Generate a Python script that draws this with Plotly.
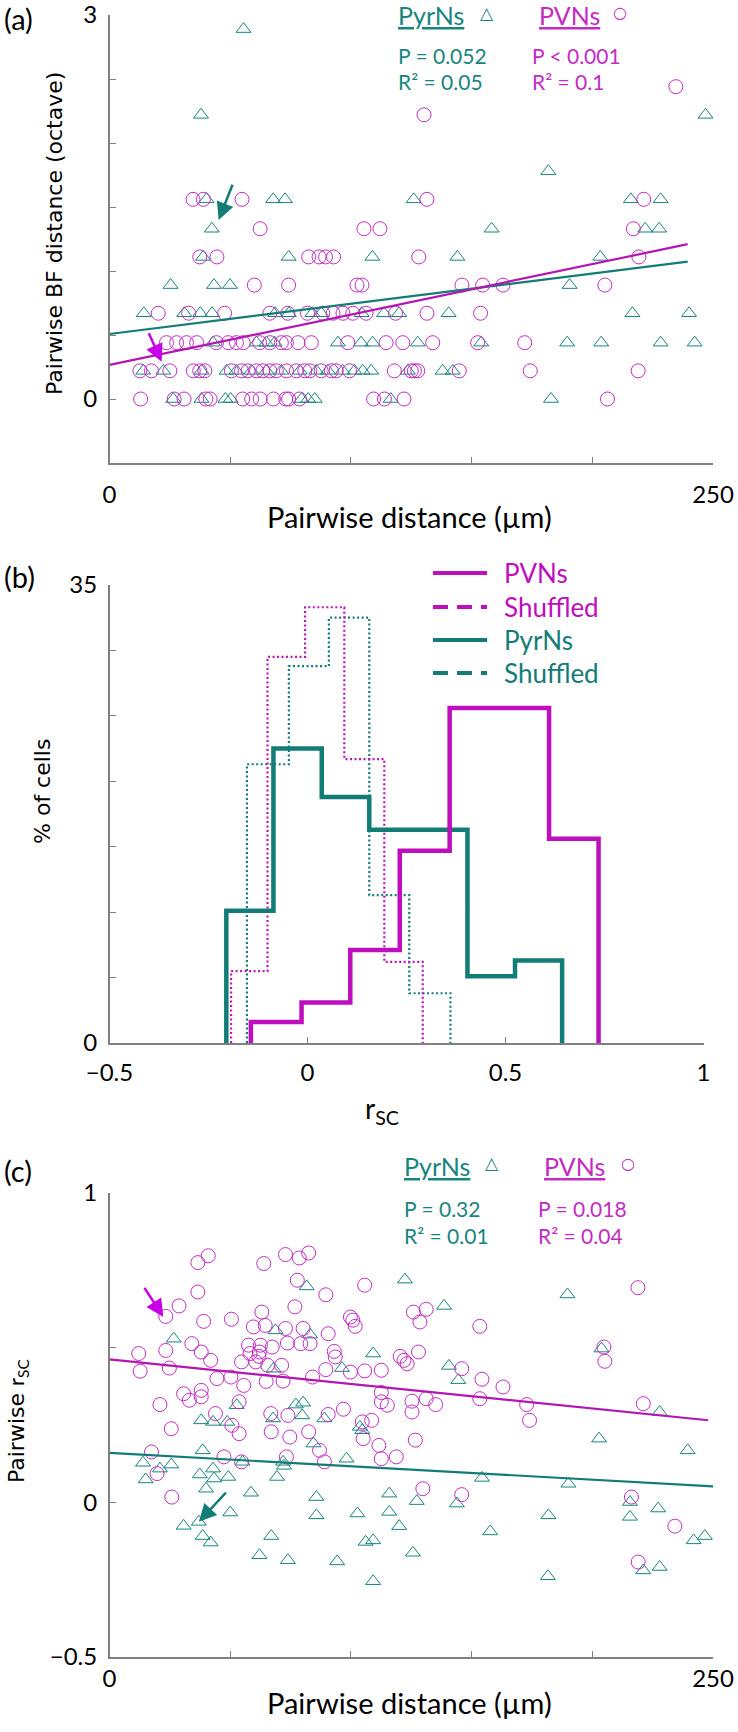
import plotly.graph_objects as go

W, H = 738, 1732
TEAL = "#17857F"
TEAL_LINE = "#137C76"
MAG = "#C42BC4"
MAG_LINE = "#B316B3"
MAG_ARROW = "#C800E6"
AXC = "#808080"
FT = "Lato"          # Calibri-like
FV = "DejaVu Sans"   # Verdana-like

# ---------------- Panel (a): pairwise distance (um) vs pairwise BF distance (octave)
pyr_a_dist = [26.4, 38.1, 48.0, 50.2, 79.6, 82.3, 85.0, 116.5, 182.9,
              14.0, 22.3, 38.1, 48.5, 52.6, 58.8, 65.0, 71.2, 78.8, 85.7, 90.5, 96.6, 101.5, 104.9, 108.4, 123.6, 138.0, 142.2,
              42.9, 60.9, 65.0, 68.4, 94.6, 104.2, 109.0, 127.7, 154.0, 189.6, 203.7, 228.3, 242.4,
              14.2, 31.0, 37.6, 42.5, 68.6, 74.3, 84.0, 87.7, 104.5, 113.7, 120.0, 140.5, 216.6, 240.1,
              25.3, 43.3, 49.9, 190.6,
              38.8, 74.2, 108.9, 144.1, 203.3,
              42.4, 158.3, 221.9, 227.7,
              40.2, 67.8, 72.7, 126.0, 216.0, 228.3,
              181.8,
              37.9, 246.9,
              55.5]
pyr_a_bf = [0.00, 0.00, 0.00, 0.00, 0.00, 0.00, 0.00, 0.00, 0.00,
            0.22, 0.22, 0.22, 0.22, 0.22, 0.22, 0.22, 0.22, 0.22, 0.22, 0.22, 0.22, 0.22, 0.22, 0.22, 0.22, 0.22, 0.22,
            0.44, 0.44, 0.44, 0.44, 0.44, 0.44, 0.44, 0.44, 0.44, 0.44, 0.44, 0.44, 0.44,
            0.67, 0.67, 0.67, 0.67, 0.67, 0.67, 0.67, 0.67, 0.67, 0.67, 0.67, 0.67, 0.67, 0.67,
            0.89, 0.89, 0.89, 0.89,
            1.11, 1.11, 1.11, 1.11, 1.11,
            1.33, 1.33, 1.33, 1.33,
            1.56, 1.56, 1.56, 1.56, 1.56, 1.56,
            1.78,
            2.22, 2.22,
            2.89]

pv_a_dist = [12.9, 26.8, 30.9, 39.9, 41.7, 55.2, 58.9, 62.4, 67.9, 73.0, 74.2, 78.7, 109.4, 113.9, 122.0, 206.3,
             12.6, 17.4, 25.0, 34.7, 37.4, 39.5, 50.5, 54.7, 57.4, 60.9, 63.5, 66.4, 69.1, 73.3, 77.4, 80.9, 83.0, 87.7,
             91.9, 93.9, 99.4, 118.0, 125.0, 126.3, 127.7, 144.9, 174.3, 219.0,
             23.6, 27.8, 31.9, 36.1, 44.3, 49.2, 52.6, 55.4, 62.2, 66.4, 71.2, 73.3, 78.1, 83.6, 98.7, 114.6, 121.5, 133.9, 152.5, 172.0,
             20.2, 32.8, 47.7, 66.4, 73.9, 82.0, 88.4, 92.6, 96.7, 100.8, 106.3, 118.5, 131.5, 153.7,
             60.0, 74.2, 102.5, 104.6, 146.0, 154.6, 163.0, 205.2,
             37.4, 44.5, 82.5, 86.8, 89.5, 92.8, 128.1, 219.3,
             62.4, 105.4, 112.0, 217.0,
             34.6, 38.9, 54.9, 131.5, 221.3,
             130.3,
             234.6]
pv_a_bf = [0.00, 0.00, 0.00, 0.00, 0.00, 0.00, 0.00, 0.00, 0.00, 0.00, 0.00, 0.00, 0.00, 0.00, 0.00, 0.00,
           0.22, 0.22, 0.22, 0.22, 0.22, 0.22, 0.22, 0.22, 0.22, 0.22, 0.22, 0.22, 0.22, 0.22, 0.22, 0.22, 0.22, 0.22,
           0.22, 0.22, 0.22, 0.22, 0.22, 0.22, 0.22, 0.22, 0.22, 0.22,
           0.44, 0.44, 0.44, 0.44, 0.44, 0.44, 0.44, 0.44, 0.44, 0.44, 0.44, 0.44, 0.44, 0.44, 0.44, 0.44, 0.44, 0.44, 0.44, 0.44,
           0.67, 0.67, 0.67, 0.67, 0.67, 0.67, 0.67, 0.67, 0.67, 0.67, 0.67, 0.67, 0.67, 0.67,
           0.89, 0.89, 0.89, 0.89, 0.89, 0.89, 0.89, 0.89,
           1.11, 1.11, 1.11, 1.11, 1.11, 1.11, 1.11, 1.11,
           1.33, 1.33, 1.33, 1.33,
           1.56, 1.56, 1.56, 1.56, 1.56,
           2.22,
           2.44]

# regression fits: (intercept, slope, x_end)
fit_a_pyr = [0.508, 0.00236, 239.5]
fit_a_pv = [0.266, 0.00394, 239.5]

# ---------------- Panel (b): r_sc histograms (% of cells)
pv_edges = [-0.143, -0.015, 0.108, 0.233, 0.359, 0.485, 0.610, 0.735]
pv_pct = [1.6, 3.1, 7.1, 14.7, 25.6, 25.6, 15.6]
pyr_edges = [-0.205, -0.086, 0.036, 0.156, 0.280, 0.404, 0.524, 0.643]
pyr_pct = [10.1, 22.5, 18.8, 16.3, 16.3, 5.1, 6.3]
pv_shuf_edges = [-0.193, -0.101, -0.006, 0.093, 0.194, 0.291]
pv_shuf_pct = [5.5, 29.5, 33.3, 21.7, 6.2]
pyr_shuf_edges = [-0.153, -0.047, 0.054, 0.156, 0.257, 0.361]
pyr_shuf_pct = [21.3, 28.8, 32.5, 11.3, 3.8]

# ---------------- Panel (c): pairwise distance vs pairwise r_sc
pv_c_dist = [36.6, 40.9, 63.9, 72.9, 78.6, 82.5, 77.8, 36.6, 28.8, 23.3, 39.0, 50.5, 63.1, 76.8, 89.6, 105.7,
             59.6, 64.5, 72.9, 80.2, 90.6, 99.8, 100.8, 101.8, 125.9, 131.2, 128.6, 153.4, 218.9,
             12.1, 23.3, 34.1, 38.0, 41.9, 57.6, 62.5, 62.1, 67.4, 73.7, 79.2, 83.1, 58.2, 61.9, 54.7, 60.6, 65.5, 71.3,
             93.1, 93.5, 120.4, 122.0, 123.3, 128.0, 204.8, 205.2,
             12.7, 24.8, 44.5, 50.3, 55.6, 64.9, 71.9, 84.1, 89.6, 99.8, 105.7, 112.6, 145.9, 154.3, 163.0,
             30.7, 33.1, 38.0, 38.0, 20.9, 25.6, 17.4, 19.7, 25.8, 43.9, 50.7, 53.7, 53.7, 47.4, 54.7,
             66.8, 67.0, 73.9, 74.7, 73.3, 82.5, 87.0, 89.0, 90.6, 96.9, 104.7, 105.1, 108.6, 111.6, 112.6,
             112.6, 115.1, 112.6, 118.8, 125.3, 125.3, 131.2, 135.1, 126.7, 129.8, 145.9, 153.4, 172.8, 174.0,
             221.1, 216.2, 234.2, 219.0]
pv_c_rsc = [0.775, 0.797, 0.772, 0.801, 0.790, 0.806, 0.718, 0.680, 0.635, 0.601, 0.585, 0.592, 0.615, 0.632, 0.671, 0.702,
            0.567, 0.572, 0.562, 0.562, 0.545, 0.599, 0.589, 0.569, 0.615, 0.624, 0.583, 0.569, 0.694,
            0.481, 0.491, 0.513, 0.486, 0.459, 0.508, 0.508, 0.486, 0.502, 0.515, 0.513, 0.513, 0.481, 0.472, 0.454, 0.454, 0.443, 0.443,
            0.488, 0.470, 0.472, 0.459, 0.448, 0.486, 0.502, 0.456,
            0.424, 0.434, 0.400, 0.405, 0.378, 0.391, 0.392, 0.405, 0.429, 0.421, 0.425, 0.427, 0.432, 0.398, 0.373,
            0.351, 0.330, 0.341, 0.362, 0.316, 0.238, 0.163, 0.093, 0.017, 0.287, 0.249, 0.325, 0.222, 0.147, 0.131,
            0.287, 0.228, 0.281, 0.211, 0.147, 0.228, 0.168, 0.131, 0.284, 0.301, 0.260, 0.206, 0.265, 0.184, 0.141,
            0.325, 0.314, 0.355, 0.147, 0.327, 0.292, 0.335, 0.316, 0.201, 0.044, 0.025, 0.335, 0.316, 0.265,
            0.319, 0.017, -0.077, -0.193]

pyr_c_dist = [81.7, 122.4, 189.7, 138.6, 26.6, 68.8, 83.1, 109.2, 96.3, 140.6, 144.5, 203.8, 68.0,
              80.2, 77.2, 52.7, 38.0, 42.9, 48.8, 67.8, 79.8, 89.0, 103.7, 104.7, 38.6, 13.9, 20.9, 25.6, 15.0,
              37.4, 42.9, 43.3, 49.2, 40.0, 55.1, 71.9, 72.3, 69.4, 84.5, 98.2, 202.8, 239.5, 154.3, 190.1,
              58.6, 85.7, 115.9, 127.3, 143.9, 215.6, 227.3, 50.0, 85.7, 102.7, 115.9, 181.8, 215.6,
              30.7, 37.0, 38.6, 41.9, 67.0, 106.1, 109.2, 120.0, 157.7, 242.0, 246.6,
              62.1, 73.9, 94.3, 125.7, 109.2, 181.6, 221.1, 227.9, 227.9]
pyr_c_rsc = [0.698, 0.720, 0.672, 0.635, 0.529, 0.556, 0.542, 0.481, 0.434, 0.441, 0.395, 0.497, 0.432,
             0.322, 0.316, 0.314, 0.265, 0.260, 0.260, 0.271, 0.281, 0.271, 0.244, 0.233, 0.168, 0.128, 0.109, 0.122, 0.074,
             0.090, 0.109, 0.077, 0.082, 0.044, 0.131, 0.131, 0.118, 0.082, 0.190, 0.141, 0.206, 0.168, 0.079, 0.060,
             0.031, 0.017, 0.028, 0.004, -0.004, 0.001, -0.020, -0.033, -0.042, -0.036, -0.031, -0.042, -0.047,
             -0.076, -0.063, -0.109, -0.130, -0.109, -0.128, -0.123, -0.077, -0.094, -0.123, -0.109,
             -0.171, -0.187, -0.191, -0.163, -0.255, -0.239, -0.220, -0.209, 0.292]

fit_c_pyr = [0.160, -0.000434, 254.0]
fit_c_pv = [0.462, -0.000793, 248.0]

# arrows: (tail_x, tail_y, head_x, head_y)
arrow_a_pyr = [51.2, 1.685, 45.2, 1.398]
arrow_a_pv = [16.0, 0.526, 21.6, 0.291]
arrow_c_pv = [14.1, 0.698, 22.3, 0.599]
arrow_c_pyr = [48.8, 0.036, 37.0, -0.063]

# ---------------- figure
def px(x):
    return x / W


def py(y):
    return 1 - y / H


fig = go.Figure()

tri = dict(symbol="triangle-up-open", size=13, color=TEAL, line=dict(width=1, color=TEAL))
circ = dict(symbol="circle-open", size=14, color=MAG, line=dict(width=1, color=MAG))

# panel a
fig.add_trace(go.Scatter(x=pyr_a_dist, y=pyr_a_bf, mode="markers", marker=tri, xaxis="x", yaxis="y", cliponaxis=False))
fig.add_trace(go.Scatter(x=pv_a_dist, y=pv_a_bf, mode="markers", marker=circ, xaxis="x", yaxis="y", cliponaxis=False))
for fit, col in [(fit_a_pyr, TEAL_LINE), (fit_a_pv, MAG_LINE)]:
    fig.add_trace(go.Scatter(x=[0, fit[2]], y=[fit[0], fit[0] + fit[1] * fit[2]], mode="lines",
                             line=dict(color=col, width=2.2), xaxis="x", yaxis="y"))

# panel b


def step(edges, vals):
    return [edges[0]] + list(edges), [0] + list(vals) + [0]


for e, v, col, dash, w in [
    (pyr_shuf_edges, pyr_shuf_pct, TEAL_LINE, "2px,2.5px", 2.2),
    (pv_shuf_edges, pv_shuf_pct, "#BE14BE", "2px,2.5px", 2.2),
    (pyr_edges, pyr_pct, TEAL_LINE, "solid", 4.5),
    (pv_edges, pv_pct, "#BE0EBE", "solid", 4.5),
]:
    xs, ys = step(e, v)
    fig.add_trace(go.Scatter(x=xs, y=ys, mode="lines", line=dict(color=col, width=w, dash=dash, shape="hv"),
                             xaxis="x2", yaxis="y2"))

# panel c
fig.add_trace(go.Scatter(x=pyr_c_dist, y=pyr_c_rsc, mode="markers", marker=tri, xaxis="x3", yaxis="y3", cliponaxis=False))
fig.add_trace(go.Scatter(x=pv_c_dist, y=pv_c_rsc, mode="markers", marker=circ, xaxis="x3", yaxis="y3", cliponaxis=False))
for fit, col in [(fit_c_pyr, TEAL_LINE), (fit_c_pv, MAG_LINE)]:
    fig.add_trace(go.Scatter(x=[0, fit[2]], y=[fit[0], fit[0] + fit[1] * fit[2]], mode="lines",
                             line=dict(color=col, width=2.2), xaxis="x3", yaxis="y3", cliponaxis=False))

tickfont = dict(family=FT, size=24, color="black")
axbase = dict(showline=True, linecolor=AXC, linewidth=1.5, ticks="inside", ticklen=6, tickwidth=1,
              tickcolor=AXC, showgrid=False, zeroline=False, tickfont=tickfont, fixedrange=True,
              automargin=False, ticklabeloverflow="allow")

fig.update_layout(
    template="none",
    width=W, height=H, margin=dict(l=0, r=0, t=0, b=0, pad=0, autoexpand=False),
    paper_bgcolor="white", plot_bgcolor="white", showlegend=False,
    xaxis=dict(axbase, domain=[px(109.5), px(713)], range=[0, 250], anchor="y",
               tickvals=[0, 50, 100, 150, 200, 250], ticktext=["0", "", "", "", "", "250"], ticklabelstandoff=10),
    yaxis=dict(axbase, domain=[py(463), py(15)], range=[-0.5, 3], anchor="x",
               tickvals=[0, 0.5, 1, 1.5, 2, 2.5, 3], ticktext=["0", "", "", "", "", "", "3"], ticklabelstandoff=6),
    xaxis2=dict(axbase, domain=[px(109.5), px(703.5)], range=[-0.5, 1], anchor="y2",
                tickvals=[-0.5, 0, 0.5, 1], ticktext=["\u22120.5", "0", "0.5", "1"], ticklabelstandoff=8),
    yaxis2=dict(axbase, domain=[py(1043), py(585)], range=[0, 35], anchor="x2",
                tickvals=[0, 5, 10, 15, 20, 25, 30, 35], ticktext=["0", "", "", "", "", "", "", "35"], ticklabelstandoff=6),
    xaxis3=dict(axbase, domain=[px(109.5), px(713)], range=[0, 250], anchor="y3",
                tickvals=[0, 50, 100, 150, 200, 250], ticktext=["0", "", "", "", "", "250"], ticklabelstandoff=0),
    yaxis3=dict(axbase, domain=[py(1657), py(1193)], range=[-0.5, 1], anchor="x3",
                tickvals=[-0.5, 0, 0.5, 1], ticktext=["\u22120.5", "0", "", "1"], ticklabelstandoff=6),
)

ann = []


def text(x, y, t, size, color="black", family=FT, xanchor="left", angle=0):
    ann.append(dict(x=px(x), y=py(y), xref="paper", yref="paper", text=t, showarrow=False,
                    xanchor=xanchor, yanchor="middle", textangle=angle,
                    font=dict(family=family, size=size, color=color)))


# panel labels
text(2, 19, "(a)", 29)
text(2, 576, "(b)", 29)
text(2, 1170, "(c)", 29)

# axis titles
text(54, 234, "Pairwise BF distance (octave)", 22, family=FV, xanchor="center", angle=-90)
text(409, 516, "Pairwise distance (\u00b5m)", 29, xanchor="center")
text(42, 792, "% of cells", 22, family=FV, xanchor="center", angle=-90)
text(382, 1110, "r<sub>SC</sub>", 28, xanchor="center")
text(17, 1421, "Pairwise <span style='font-family:Lato'>r<sub>SC</sub></span>", 22, family=FV, xanchor="center", angle=-90)
text(409, 1702, "Pairwise distance (\u00b5m)", 29, xanchor="center")

# panel a header / stats
text(396, 15, "<u>PyrNs</u>", 25, TEAL)
text(487, 13, "\u25b3", 17, TEAL, family=FV, xanchor="center")
text(537, 15, "<u>PVNs</u>", 25, MAG)
text(620, 13, "\u25cb", 16, MAG, family=FV, xanchor="center")
text(396, 55, "P = 0.052", 21, TEAL)
text(396, 82, "R\u00b2 = 0.05", 21, TEAL)
text(530, 55, "P < 0.001", 21, MAG)
text(530, 82, "R\u00b2 = 0.1", 21, MAG)

# panel c header / stats
text(402, 1166, "<u>PyrNs</u>", 25, TEAL)
text(492, 1163, "\u25b3", 17, TEAL, family=FV, xanchor="center")
text(542, 1166, "<u>PVNs</u>", 25, MAG)
text(628, 1163, "\u25cb", 16, MAG, family=FV, xanchor="center")
text(402, 1208, "P = 0.32", 21, TEAL)
text(402, 1235, "R\u00b2 = 0.01", 21, TEAL)
text(536, 1208, "P = 0.018", 21, MAG)
text(536, 1235, "R\u00b2 = 0.04", 21, MAG)

# panel b legend
shapes = []
for yy, lab, col, dash in [(573, "PVNs", "#BE0EBE", "solid"), (607, "Shuffled", "#BE0EBE", "15px,9px"),
                           (640, "PyrNs", TEAL_LINE, "solid"), (673, "Shuffled", TEAL_LINE, "15px,9px")]:
    shapes.append(dict(type="line", xref="paper", yref="paper", x0=px(433), x1=px(487), y0=py(yy), y1=py(yy),
                       line=dict(color=col, width=4, dash=dash)))
    text(502, yy, lab, 26, col)

# arrows
for a, xr, yr, col in [(arrow_a_pyr, "x", "y", TEAL_LINE), (arrow_a_pv, "x", "y", MAG_ARROW),
                       (arrow_c_pv, "x3", "y3", MAG_ARROW), (arrow_c_pyr, "x3", "y3", TEAL_LINE)]:
    ann.append(dict(x=a[2], y=a[3], ax=a[0], ay=a[1], xref=xr, yref=yr, axref=xr, ayref=yr, text="",
                    showarrow=True, arrowhead=2, arrowsize=1.4, arrowwidth=2.5, arrowcolor=col, standoff=0))

fig.update_layout(annotations=ann, shapes=shapes)
fig.write_html(
    "out.html",
    config={"displayModeBar": False, "staticPlot": True},
    post_script=("document.documentElement.style.margin='0';document.documentElement.style.overflow='hidden';"
                 "document.body.style.margin='0';document.body.style.padding='0';document.body.style.overflow='hidden';"),
)
